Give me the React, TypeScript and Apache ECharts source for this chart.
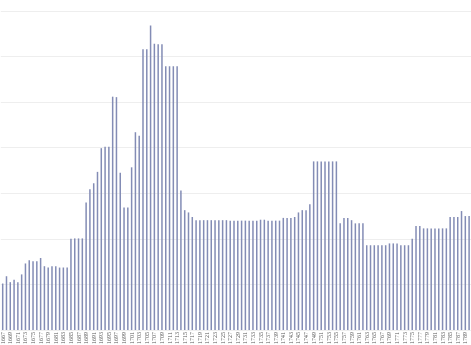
import React, { useEffect, useRef } from "react";
import * as echarts from "echarts";

const years: string[] = [
  "1667","1668","1669","1670","1671","1672","1673","1674","1675","1676",
  "1677","1678","1679","1680","1681","1682","1683","1684","1685","1686",
  "1687","1688","1689","1690","1691","1692","1693","1694","1695","1696",
  "1697","1698","1699","1700","1701","1702","1703","1704","1705","1706",
  "1707","1708","1709","1710","1711","1712","1713","1714","1715","1716",
  "1717","1718","1719","1720","1721","1722","1723","1724","1725","1726",
  "1727","1728","1729","1730","1731","1732","1733","1734","1735","1736",
  "1737","1738","1739","1740","1741","1742","1743","1744","1745","1746",
  "1747","1748","1749","1750","1751","1752","1753","1754","1755","1756",
  "1757","1758","1759","1760","1761","1762","1763","1764","1765","1766",
  "1767","1768","1769","1770","1771","1772","1773","1774","1775","1776",
  "1777","1778","1779","1780","1781","1782","1783","1784","1785","1786",
  "1787","1788","1789","1790"
];

const values: number[] = [
  10.2, 11.8, 10.5, 11.0, 10.5, 12.2, 14.6, 15.3, 15.1, 15.1,
  15.8, 14.0, 13.7, 14.0, 14.0, 13.7, 13.7, 13.7, 20.0, 20.1,
  20.1, 20.1, 28.0, 30.9, 32.2, 34.7, 39.9, 40.2, 40.2, 51.2,
  51.1, 34.5, 26.9, 26.9, 35.7, 43.4, 42.6, 61.6, 61.6, 66.8,
  62.8, 62.7, 62.7, 57.9, 57.9, 57.9, 57.9, 30.6, 26.3, 25.8,
  24.8, 24.1, 24.1, 24.1, 24.1, 24.1, 24.1, 24.1, 24.1, 24.1,
  24.0, 24.0, 24.0, 24.0, 24.0, 24.0, 24.0, 24.0, 24.2, 24.2,
  24.0, 24.0, 24.0, 24.0, 24.6, 24.6, 24.6, 24.8, 25.8, 26.3,
  26.3, 27.6, 37.0, 37.0, 37.0, 37.0, 37.0, 37.0, 37.0, 23.4,
  24.6, 24.6, 24.1, 23.4, 23.4, 23.4, 18.6, 18.6, 18.6, 18.6,
  18.6, 18.6, 19.0, 19.0, 19.0, 18.6, 18.6, 18.6, 20.0, 22.8,
  22.8, 22.3, 22.3, 22.3, 22.3, 22.3, 22.3, 22.3, 24.8, 24.8,
  24.8, 26.1, 25.0, 25.0
];

export default function App() {
  const ref = useRef<HTMLDivElement>(null);
  useEffect(() => {
    if (!ref.current) return;
    const chart = echarts.init(ref.current, undefined, { renderer: "svg" });
    chart.setOption({
      animation: false,
      grid: {
        left: 0.8,
        right: 0,
        top: 11,
        bottom: 15,
        containLabel: false,
        outerBoundsMode: "none",
      },
      xAxis: {
        type: "category",
        data: years,
        axisLine: { show: false },
        axisTick: { show: false },
        axisLabel: {
          interval: 1,
          rotate: 90,
          fontSize: 6,
          margin: 2,
          color: "#555",
          fontFamily: "serif",
        },
      },
      yAxis: {
        type: "value",
        min: 0,
        max: 70,
        interval: 10,
        axisLabel: { show: false },
        axisLine: { show: false },
        axisTick: { show: false },
        splitLine: { lineStyle: { color: "#eeeeee", width: 1 } },
      },
      series: [
        {
          type: "bar",
          data: values,
          barWidth: 1.5,
          itemStyle: { color: "#838cb5" },
        },
      ],
    });
    return () => chart.dispose();
  }, []);
  return (
    <div
      ref={ref}
      style={{ position: "fixed", left: 0, top: 0, width: 471, height: 345 }}
    />
  );
}
